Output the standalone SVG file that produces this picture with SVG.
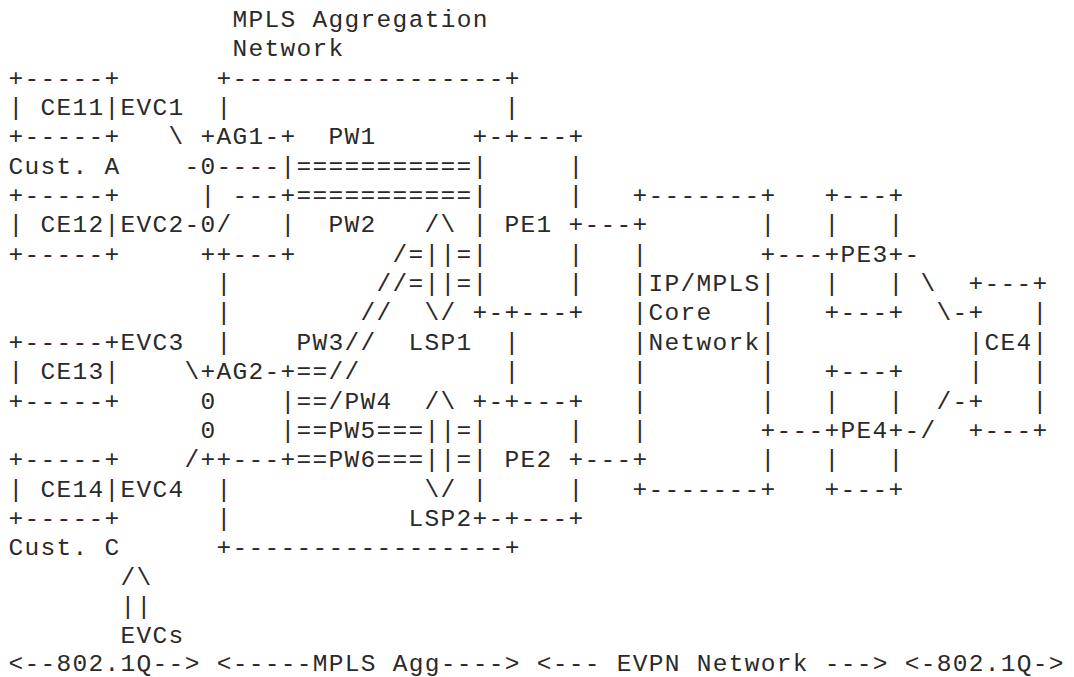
<svg xmlns="http://www.w3.org/2000/svg" width="1074" height="677" viewBox="0 0 1074 677" xml:space="preserve">
<style>
text { font-family: "Liberation Mono", "Courier New", monospace; font-size: 24.5px; letter-spacing: 1.3px; fill: #2a2a2a; white-space: pre; }
</style>
<rect x="0" y="0" width="1074" height="677" fill="#fff"/>
<g transform="translate(0.6,0)">
<g id="title">
<text x="232" y="26.95">MPLS Aggregation</text>
<text x="232" y="56.3">Network</text>
</g>
<g id="mpls-agg-network">
<text x="216" y="85.65">+-----------------+</text>
<text x="216" y="115">|</text><text x="504" y="115">|</text>
<text x="216" y="291.1">|</text>
<text x="216" y="320.45">|</text>
<text x="216" y="349.8">|</text><text x="504" y="349.8">|</text>
<text x="504" y="379.15">|</text>
<text x="216" y="496.55">|</text>
<text x="216" y="525.9">|</text>
<text x="216" y="555.25">+-----------------+</text>
</g>
<g id="ce11">
<text x="8" y="85.65">+-----+</text>
<text x="8" y="115">| CE11|</text>
<text x="8" y="144.35">+-----+</text>
<text x="8" y="173.7">Cust. A</text>
</g>
<g id="ce12">
<text x="8" y="203.05">+-----+</text>
<text x="8" y="232.4">| CE12|</text>
<text x="8" y="261.75">+-----+</text>
</g>
<g id="ce13">
<text x="8" y="349.8">+-----+</text>
<text x="8" y="379.15">| CE13|</text>
<text x="8" y="408.5">+-----+</text>
</g>
<g id="ce14">
<text x="8" y="467.2">+-----+</text>
<text x="8" y="496.55">| CE14|</text>
<text x="8" y="525.9">+-----+</text>
<text x="8" y="555.25">Cust. C</text>
</g>
<g id="ag1">
<text x="200" y="144.35">+AG1-+</text>
<text x="200" y="173.7">0----|</text>
<text x="200" y="203.05">| ---+</text>
<text x="200" y="232.4">0/   |</text>
<text x="200" y="261.75">++---+</text>
</g>
<g id="ag2">
<text x="200" y="379.15">+AG2-+</text>
<text x="200" y="408.5">0    |</text>
<text x="200" y="437.85">0    |</text>
<text x="200" y="467.2">++---+</text>
</g>
<g id="pe1">
<text x="472" y="144.35">+-+---+</text>
<text x="472" y="173.7">|     |</text>
<text x="472" y="203.05">|     |</text>
<text x="472" y="232.4">| PE1 +</text>
<text x="472" y="261.75">|     |</text>
<text x="472" y="291.1">|     |</text>
<text x="472" y="320.45">+-+---+</text>
</g>
<g id="pe2">
<text x="472" y="408.5">+-+---+</text>
<text x="472" y="437.85">|     |</text>
<text x="472" y="467.2">| PE2 +</text>
<text x="472" y="496.55">|     |</text>
<text x="472" y="525.9">+-+---+</text>
</g>
<g id="core">
<text x="632" y="203.05">+-------+</text>
<text x="632" y="232.4">+       |</text>
<text x="632" y="261.75">|       +</text>
<text x="632" y="291.1">|IP/MPLS|</text>
<text x="632" y="320.45">|Core   |</text>
<text x="632" y="349.8">|Network|</text>
<text x="632" y="379.15">|       |</text>
<text x="632" y="408.5">|       |</text>
<text x="632" y="437.85">|       +</text>
<text x="632" y="467.2">+       |</text>
<text x="632" y="496.55">+-------+</text>
</g>
<g id="pe3">
<text x="824" y="203.05">+---+</text>
<text x="824" y="232.4">|   |</text>
<text x="824" y="261.75">+PE3+</text>
<text x="824" y="291.1">|   |</text>
<text x="824" y="320.45">+---+</text>
</g>
<g id="pe4">
<text x="824" y="379.15">+---+</text>
<text x="824" y="408.5">|   |</text>
<text x="824" y="437.85">+PE4+</text>
<text x="824" y="467.2">|   |</text>
<text x="824" y="496.55">+---+</text>
</g>
<g id="ce4">
<text x="968" y="291.1">+---+</text>
<text x="968" y="320.45">+   |</text>
<text x="968" y="349.8">|CE4|</text>
<text x="968" y="379.15">|   |</text>
<text x="968" y="408.5">+   |</text>
<text x="968" y="437.85">+---+</text>
</g>
<g id="connectors">
<text x="120" y="115">EVC1</text>
<text x="168" y="144.35">\</text>
<text x="328" y="144.35">PW1</text>
<text x="184" y="173.7">-</text>
<text x="296" y="173.7">===========</text>
<text x="296" y="203.05">===========</text>
<text x="120" y="232.4">EVC2-</text>
<text x="328" y="232.4">PW2</text>
<text x="424" y="232.4">/\</text>
<text x="584" y="232.4">---</text>
<text x="392" y="261.75">/=||=</text>
<text x="776" y="261.75">---</text>
<text x="904" y="261.75">-</text>
<text x="376" y="291.1">//=||=</text>
<text x="920" y="291.1">\</text>
<text x="360" y="320.45">//</text>
<text x="424" y="320.45">\/</text>
<text x="936" y="320.45">\-</text>
<text x="120" y="349.8">EVC3</text>
<text x="296" y="349.8">PW3//</text>
<text x="408" y="349.8">LSP1</text>
<text x="184" y="379.15">\</text>
<text x="296" y="379.15">==//</text>
<text x="296" y="408.5">==/PW4</text>
<text x="424" y="408.5">/\</text>
<text x="936" y="408.5">/-</text>
<text x="296" y="437.85">==PW5===||=</text>
<text x="776" y="437.85">---</text>
<text x="904" y="437.85">-/</text>
<text x="184" y="467.2">/</text>
<text x="296" y="467.2">==PW6===||=</text>
<text x="584" y="467.2">---</text>
<text x="120" y="496.55">EVC4</text>
<text x="424" y="496.55">\/</text>
<text x="408" y="525.9">LSP2</text>
</g>
<g id="evcs-label">
<text x="120" y="584.6">/\</text>
<text x="120" y="613.95">||</text>
<text x="120" y="643.3">EVCs</text>
</g>
<g id="legend">
<text x="8" y="671">&lt;--802.1Q--&gt; &lt;-----MPLS Agg----&gt; &lt;--- EVPN Network ---&gt; &lt;-802.1Q-&gt;</text>
</g>
</g>
</svg>
